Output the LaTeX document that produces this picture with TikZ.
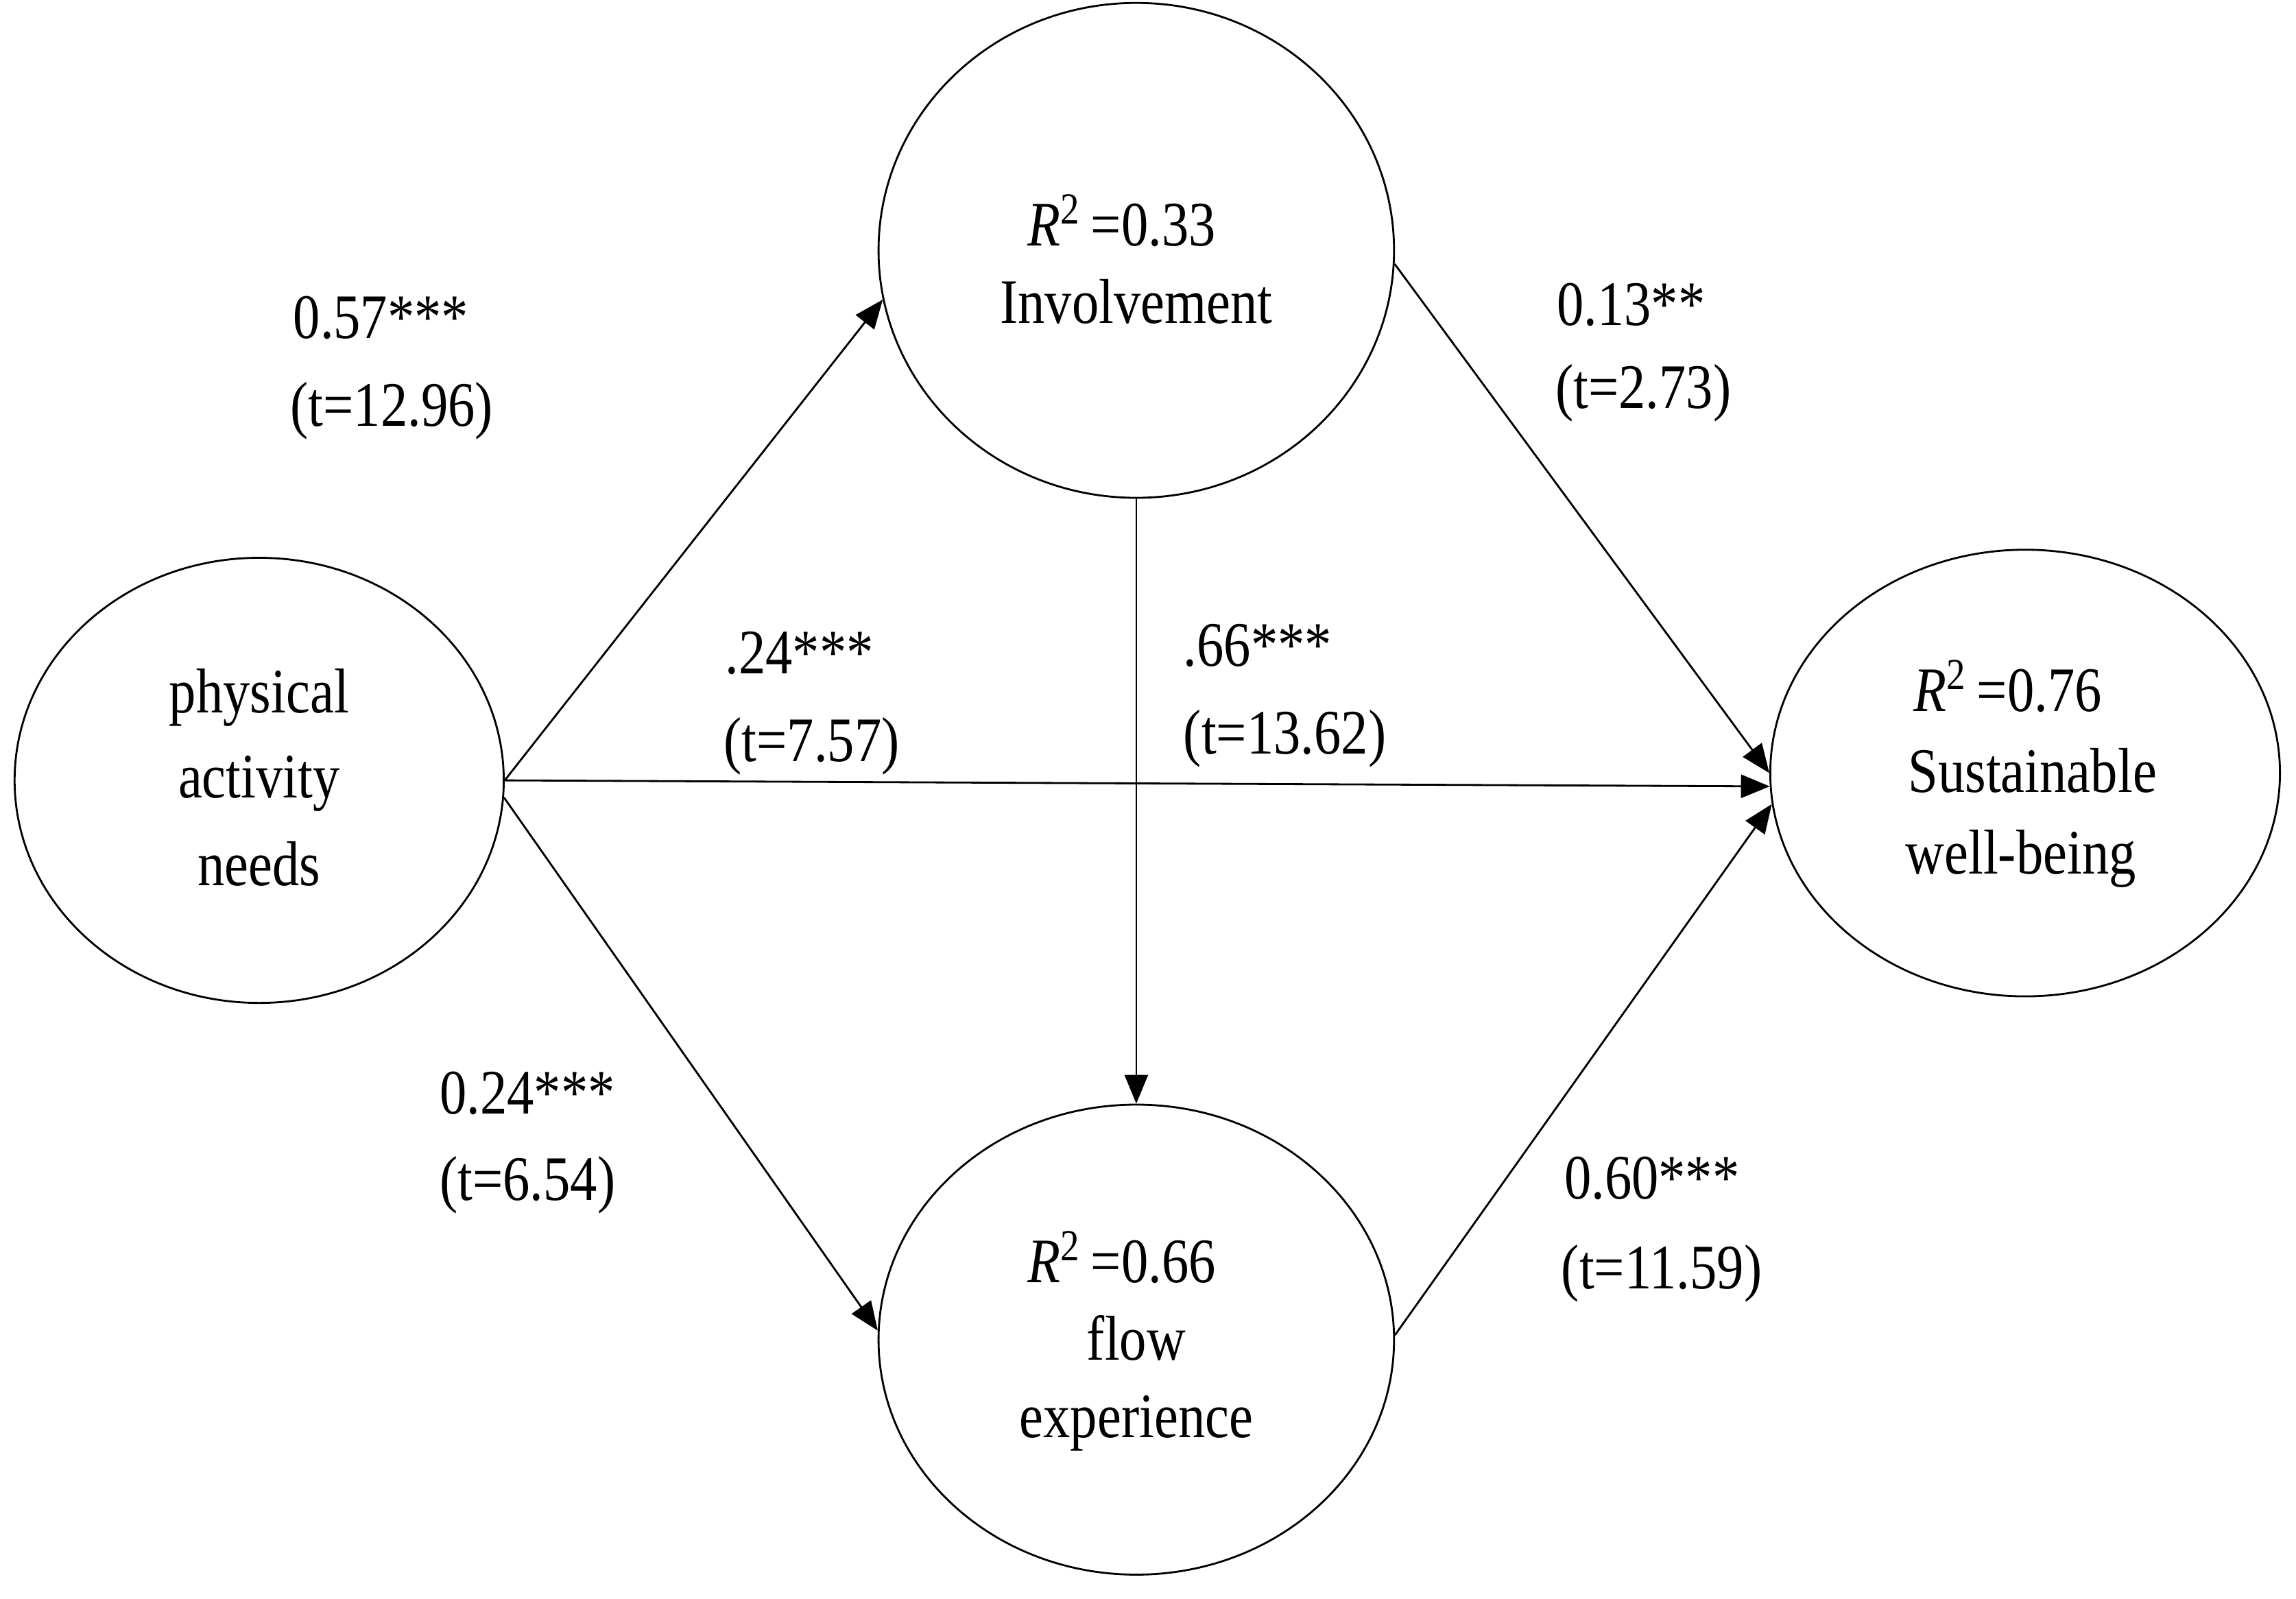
\documentclass[tikz,border=0pt]{standalone}
\usepackage{fontspec}
\setmainfont{Liberation Serif}[FakeStretch=0.85]
\usetikzlibrary{arrows.meta,shapes.geometric}
\begin{document}
\begin{tikzpicture}[x=0.02135cm,y=-0.02135cm,
  lat/.style={draw, ellipse, line width=0.8pt, inner sep=0pt},
  arr/.style={line width=0.8pt, -{Triangle[length=0.42cm,width=0.34cm]}},
  txt/.style={inner sep=0pt, font=\fontsize{26.3pt}{30pt}\selectfont},
  lbl/.style={txt, anchor=base west},
  ctr/.style={txt, anchor=base}]
\useasboundingbox (0,0) rectangle (1568,1092);
% latent variables
\node[lat, minimum width=7.131cm, minimum height=6.490cm] (pan) at (177,533) {};
\node[lat, minimum width=7.515cm, minimum height=7.216cm] (inv) at (776,171) {};
\node[lat, minimum width=7.515cm, minimum height=6.853cm] (flow) at (776,915) {};
\node[lat, minimum width=7.430cm, minimum height=6.512cm] (sus) at (1383,528) {};
% paths
\draw[arr] (pan.east) -- (inv.191);
\draw[arr] (pan.-4) -- (flow.178);
\draw[arr] (pan.east) -- (sus.183);
\draw[arr] (inv.-3) -- (sus.180);
\draw[arr] (flow.1) -- (sus.187);
\draw[arr] (inv.south) -- (flow.north);
% texts in ellipses
\node[ctr] (pan1) at (177,487) {physical};
\node[ctr] (pan2) at (177,545) {activity};
\node[ctr] (pan3) at (177,605) {needs};
\node[ctr] (inv1) at (766,168) {\textit{R}\textsuperscript{2}\,=0.33};
\node[ctr] (inv2) at (776,221) {Involvement};
\node[ctr] (sus1) at (1371,486) {\textit{R}\textsuperscript{2}\,=0.76};
\node[ctr] (sus2) at (1388,541) {Sustainable};
\node[ctr] (sus3) at (1380,597) {well-being};
\node[ctr] (flow1) at (766,876) {\textit{R}\textsuperscript{2}\,=0.66};
\node[ctr] (flow2) at (776,929) {flow};
\node[ctr] (flow3) at (776,982) {experience};
% coefficients
\node[lbl] (c1a) at (200,231) {0.57***};
\node[lbl] (c1b) at (198,291) {(t=12.96)};
\node[lbl] (c2a) at (1063,222) {0.13**};
\node[lbl] (c2b) at (1062,279) {(t=2.73)};
\node[lbl] (c3a) at (495,460) {.24***};
\node[lbl] (c3b) at (494,520) {(t=7.57)};
\node[lbl] (c4a) at (808,455) {.66***};
\node[lbl] (c4b) at (808,515) {(t=13.62)};
\node[lbl] (c5a) at (300,761) {0.24***};
\node[lbl] (c5b) at (300,820) {(t=6.54)};
\node[lbl] (c6a) at (1068,819) {0.60***};
\node[lbl] (c6b) at (1066,880) {(t=11.59)};
\end{tikzpicture}
\end{document}
